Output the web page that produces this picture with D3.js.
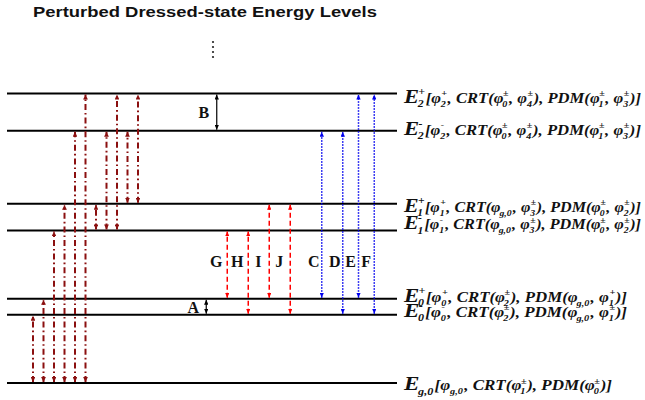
<!DOCTYPE html>
<html>
<head>
<meta charset="utf-8">
<script src="https://cdn.jsdelivr.net/npm/d3@7"></script>
<style>
  body { margin: 0; background: #fff; }
  svg { display: block; }
</style>
</head>
<body>
<svg id="diagram" width="645" height="400"></svg>
<script>
const title = "Perturbed Dressed-state Energy Levels";

// dressed-state levels, bottom to top (energy in arbitrary units)
const levelNames = ["Eg0", "E0-", "E0+", "E1-", "E1+", "E2-", "E2+"];
const levelEnergy = [0, 0.236, 0.291, 0.527, 0.619, 0.871, 1.0];
const levelLabels = [
    "E_{g,0} [φ_{g,0}, CRT(φ_1^±), PDM(φ_0^±)]",
    "E_0^- [φ_0^-, CRT(φ_2^±), PDM(φ_{g,0}, φ_1^±)]",
    "E_0^+ [φ_0^+, CRT(φ_2^±), PDM(φ_{g,0}, φ_1^+)]",
    "E_1^- [φ_1^-, CRT(φ_{g,0}, φ_3^±), PDM(φ_0^±, φ_2^±)]",
    "E_1^+ [φ_1^+, CRT(φ_{g,0}, φ_3^±), PDM(φ_0^±, φ_2^±)]",
    "E_2^- [φ_2^-, CRT(φ_0^±, φ_4^±), PDM(φ_1^±, φ_3^±)]",
    "E_2^+ [φ_2^+, CRT(φ_0^±, φ_4^±), PDM(φ_1^±, φ_3^±)]"
];

// transitions (col = slot index along the diagram)
const multiPhoton = [
    {col: 0, from: "Eg0", to: "E0-"},
    {col: 1, from: "Eg0", to: "E0+"},
    {col: 2, from: "Eg0", to: "E1-"},
    {col: 3, from: "Eg0", to: "E1+"},
    {col: 4, from: "Eg0", to: "E2-"},
    {col: 5, from: "Eg0", to: "E2+"},
    {col: 6, from: "E1-", to: "E1+"},
    {col: 7, from: "E1-", to: "E2-"},
    {col: 8, from: "E1-", to: "E2+"},
    {col: 9, from: "E1+", to: "E2-"},
    {col: 10, from: "E1+", to: "E2+"}
];
const splittings = [
    {name: "A", col: 16.5, from: "E0+", to: "E0-"},
    {name: "B", col: 17.5, from: "E2+", to: "E2-"}
];
const redTransitions = [
    {name: "G", col: 18.5, from: "E0+", to: "E1-"},
    {name: "H", col: 20.5, from: "E0-", to: "E1-"},
    {name: "I", col: 22.5, from: "E0+", to: "E1+"},
    {name: "J", col: 24.5, from: "E0-", to: "E1+"}
];
const blueTransitions = [
    {name: "C", col: 27.5, from: "E0+", to: "E2-"},
    {name: "D", col: 29.5, from: "E0-", to: "E2-"},
    {name: "E", col: 31, from: "E0+", to: "E2+"},
    {name: "F", col: 32.5, from: "E0-", to: "E2+"}
];
const ellipsisDots = [0, 1, 2, 3];

const svg = d3.select('#diagram');
const lineLeft = 7, lineRight = 397;

let yScale = d3.scaleLinear().domain([0, 1]).range([383, 93.5]);
let xScale = d3.scaleLinear().domain([0, 10]).range([33, 138]);
let levelY = {};
levelNames.forEach((n, i) => levelY[n] = yScale(levelEnergy[i]));

// title, stretched like the source picture
let titleText = svg.append('text')
    .attr('font-family', 'Liberation Sans, Arial, sans-serif')
    .attr('font-weight', 'bold')
    .attr('font-size', 14)
    .attr('fill', '#111')
    .text(title);
let tw = titleText.node().getComputedTextLength();
titleText.attr('transform', 'translate(33,17) scale(' + (344 / tw) + ',1)');

// vertical dots above the top level
svg.append('g')
    .selectAll('circle')
    .data(ellipsisDots)
    .enter()
    .append('circle')
    .attr('cx', 213)
    .attr('cy', d => 42 + d * 5)
    .attr('r', 1.1)
    .attr('fill', '#222');

// level lines
svg.append('g')
    .selectAll('line')
    .data(levelNames)
    .enter()
    .append('line')
    .attr('x1', lineLeft)
    .attr('x2', lineRight)
    .attr('y1', d => levelY[d])
    .attr('y2', d => levelY[d])
    .attr('stroke', '#000')
    .attr('stroke-width', 2);

// arrow heads
let defs = svg.append('defs');
function addMarker(id, color, len, half) {
    defs.append('marker')
        .attr('id', id)
        .attr('markerUnits', 'userSpaceOnUse')
        .attr('viewBox', '0 ' + (-half) + ' ' + len + ' ' + (2 * half))
        .attr('markerWidth', len)
        .attr('markerHeight', 2 * half)
        .attr('refX', len)
        .attr('refY', 0)
        .attr('orient', 'auto-start-reverse')
        .append('path')
        .attr('d', 'M0,' + (-half) + 'L' + len + ',0L0,' + half + 'Z')
        .attr('fill', color);
}
addMarker('head-dark', '#8b1010', 5, 2.4);
addMarker('head-red', '#ff0000', 5, 2.2);
addMarker('head-blue', '#0000ee', 5, 2.2);
addMarker('head-black', '#000', 5, 2.2);

function drawArrows(data, color, width, dash, marker) {
    let g = svg.append('g');
    g.selectAll('path')
        .data(data)
        .enter()
        .append('path')
        .attr('d', d => {
            let x = xScale(d.col);
            let y1 = levelY[d.from], y2 = levelY[d.to];
            let s = y1 > y2 ? 1 : -1;
            return 'M' + x + ',' + (y1 - s) + 'L' + x + ',' + (y2 + s);
        })
        .attr('fill', 'none')
        .attr('stroke', color)
        .attr('stroke-width', width)
        .attr('stroke-dasharray', dash)
        .attr('marker-start', 'url(#' + marker + ')')
        .attr('marker-end', 'url(#' + marker + ')');
    return g;
}

drawArrows(multiPhoton, '#8b1010', 2, '6,3,1.6,3', 'head-dark');
drawArrows(redTransitions, '#ff0000', 1.5, '5,3', 'head-red');
drawArrows(blueTransitions, '#0000ee', 1.5, '1.5,1.5', 'head-blue');
drawArrows(splittings, '#000', 1.2, null, 'head-black');

// letter labels of the transitions
function letterLabels(data, dx, yOf) {
    svg.append('g')
        .selectAll('text')
        .data(data)
        .enter()
        .append('text')
        .attr('x', d => xScale(d.col) + dx)
        .attr('y', yOf)
        .attr('text-anchor', 'middle')
        .attr('font-family', 'Liberation Serif, Times New Roman, serif')
        .attr('font-weight', 'bold')
        .attr('font-size', 16)
        .attr('fill', '#111')
        .text(d => d.name);
}
letterLabels(redTransitions, -11, 267);
letterLabels(blueTransitions, -8, 267);
letterLabels(splittings, -13, d => (levelY[d.from] + levelY[d.to]) / 2 + 6);

// level labels with stacked sub/superscripts
function parseLabel(s) {
    let out = [], buf = '', i = 0;
    let grab = () => {
        if (s[i] === '{') {
            let j = s.indexOf('}', i);
            let g = s.slice(i + 1, j);
            i = j + 1;
            return g;
        }
        return s[i++];
    };
    while (i < s.length) {
        let c = s[i];
        if (c === '_' || c === '^') {
            i++;
            let g = grab();
            if (buf) { out.push({base: buf}); buf = ''; }
            let last = out[out.length - 1];
            let key = c === '_' ? 'sub' : 'sup';
            if (!last || last.base !== undefined || last[key] !== undefined) {
                last = {};
                out.push(last);
            }
            last[key] = g;
        } else {
            buf += c;
            i++;
        }
    }
    if (buf) out.push({base: buf});
    return out;
}

const labelShift = {"Eg0": 7, "E0-": 2, "E0+": 3, "E1-": -1, "E1+": 8, "E2-": 4, "E2+": 9};
const labelEnd = {"Eg0": 612, "E0-": 627, "E0+": 627, "E1-": 641, "E1+": 641, "E2-": 641, "E2+": 641};

levelNames.forEach((name, li) => {
    let parts = parseLabel(levelLabels[li]);
    let g = svg.append('g');
    let x = 0;
    parts.forEach((p, pi) => {
        let big = pi < 2;
        if (p.base !== undefined) {
            let t = g.append('text')
                .attr('x', x)
                .attr('y', 0)
                .attr('font-size', big ? 19 : 14)
                .text(p.base);
            x += t.node().getComputedTextLength();
        } else {
            let fs = big ? 10 : 8.5;
            let w = 0;
            if (p.sup !== undefined) {
                let t = g.append('text').attr('x', x + 0.5).attr('y', big ? -8 : -6.5)
                    .attr('font-size', fs).text(p.sup);
                w = Math.max(w, t.node().getComputedTextLength());
            }
            if (p.sub !== undefined) {
                let t = g.append('text').attr('x', x).attr('y', big ? 4.5 : 4)
                    .attr('font-size', fs).text(p.sub);
                w = Math.max(w, t.node().getComputedTextLength());
            }
            x += w + 1;
        }
    });
    g.selectAll('text')
        .attr('font-family', 'Liberation Serif, Times New Roman, serif')
        .attr('font-style', 'italic')
        .attr('font-weight', 'bold')
        .attr('fill', '#111');
    let x0 = 404;
    let sx = (labelEnd[name] - x0) / x;
    g.attr('transform', 'translate(' + x0 + ',' + (levelY[name] + labelShift[name]) + ') scale(' + sx + ',1)');
});
</script>
</body>
</html>
